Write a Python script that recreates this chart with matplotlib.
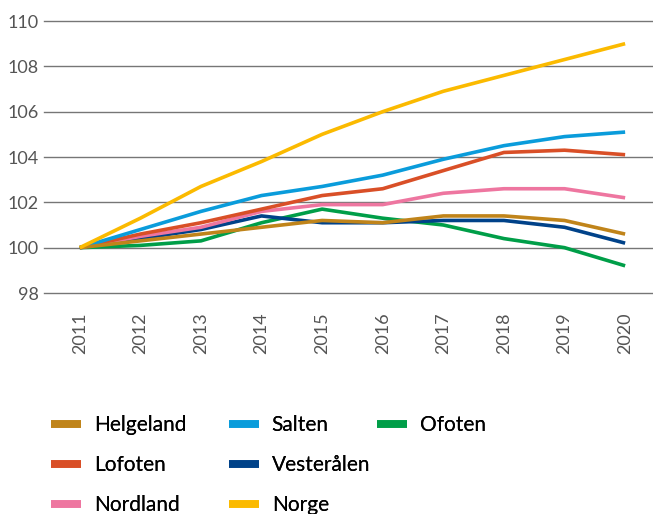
import matplotlib

matplotlib.use("Agg")

import matplotlib.pyplot as plt
from matplotlib.lines import Line2D

plt.rcParams["font.family"] = ["Lato", "DejaVu Sans"]

years = [2011, 2012, 2013, 2014, 2015, 2016, 2017, 2018, 2019, 2020]

helgeland = [100.0, 100.3, 100.6, 100.9, 101.2, 101.1, 101.4, 101.4, 101.2, 100.6]
lofoten = [100.0, 100.6, 101.1, 101.7, 102.3, 102.6, 103.4, 104.2, 104.3, 104.1]
nordland = [100.0, 100.5, 100.9, 101.6, 101.9, 101.9, 102.4, 102.6, 102.6, 102.2]
salten = [100.0, 100.8, 101.6, 102.3, 102.7, 103.2, 103.9, 104.5, 104.9, 105.1]
vesteralen = [100.0, 100.4, 100.8, 101.4, 101.1, 101.1, 101.2, 101.2, 100.9, 100.2]
norge = [100.0, 101.3, 102.7, 103.8, 105.0, 106.0, 106.9, 107.6, 108.3, 109.0]
ofoten = [100.0, 100.1, 100.3, 101.1, 101.7, 101.3, 101.0, 100.4, 100.0, 99.2]

yticks = [98, 100, 102, 104, 106, 108, 110]

COLORS = {
    "Helgeland": "#C0841A",
    "Lofoten": "#D94F27",
    "Nordland": "#EE76A0",
    "Salten": "#0A9CDB",
    "Vesterålen": "#004289",
    "Norge": "#FBBA00",
    "Ofoten": "#009E48",
}

series = {
    "Ofoten": ofoten,
    "Vesterålen": vesteralen,
    "Nordland": nordland,
    "Lofoten": lofoten,
    "Salten": salten,
    "Helgeland": helgeland,
    "Norge": norge,
}

# legend columns as laid out in the source figure
legend_columns = [
    ["Helgeland", "Lofoten", "Nordland"],
    ["Salten", "Vesterålen", "Norge"],
    ["Ofoten"],
]
legend_x = [51 / 653, 229 / 653, 377 / 653]

fig = plt.figure(figsize=(6.53, 5.14), dpi=100)
ax = fig.add_axes([44 / 653, 1 - 293 / 514, 1 - 44 / 653, (293 - 21) / 514])

for name, vals in series.items():
    ax.plot(years, vals, color=COLORS[name], lw=2.6, solid_capstyle="butt",
            solid_joinstyle="round", zorder=3)

ax.set_ylim(98, 110)
ax.set_xlim(2010.41, 2020.46)
ax.set_yticks(yticks)
ax.set_xticks(years)
ax.set_xticklabels([str(y) for y in years], rotation=90)
ax.grid(axis="y", color="#767676", lw=1.0, clip_on=False)
ax.set_axisbelow(True)
for s in ax.spines.values():
    s.set_visible(False)
ax.tick_params(length=0, colors="#555555", labelsize=13)
ax.tick_params(axis="x", pad=14)
ax.tick_params(axis="y", pad=4)

for col, x0 in zip(legend_columns, legend_x):
    handles = [Line2D([], [], color=COLORS[n], lw=5.5, solid_capstyle="butt") for n in col]
    leg = fig.legend(handles, col, loc="upper left", bbox_to_anchor=(x0, 0.192),
                     frameon=False, fontsize=15, handlelength=1.45, handletextpad=0.6,
                     labelspacing=0.95, borderaxespad=0, borderpad=0)
    fig.add_artist(leg)

fig.savefig("out.png", dpi=100)
